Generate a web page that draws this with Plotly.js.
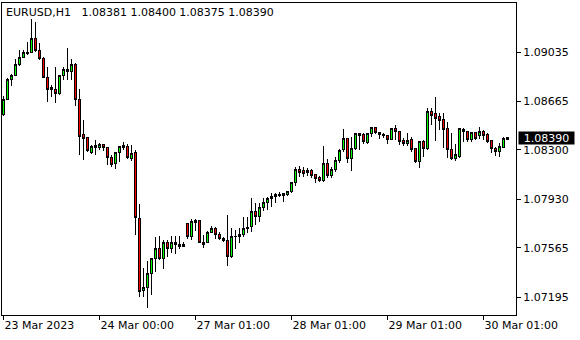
<!DOCTYPE html>
<html>
<head>
<meta charset="utf-8">
<script src="https://cdn.plot.ly/plotly-3.0.1.min.js"></script>
<style>
html,body{margin:0;padding:0;background:#fff;}
#chart{width:580px;height:340px;}
#chart path.box{shape-rendering:crispEdges !important;}
</style>
</head>
<body>
<div id="chart"></div>
<script>
var symbolTitle = "EURUSD,H1";
var openP = [1.08562,1.08682,1.08825,1.08855,1.08944,1.08997,1.09027,1.09035,1.09140,1.09050,
1.08990,1.08847,1.08765,1.08750,1.08720,1.08855,1.08900,1.08885,1.08944,1.08675,
1.08412,1.08390,1.08277,1.08330,1.08315,1.08337,1.08315,1.08240,1.08195,1.08277,
1.08330,1.08322,1.08232,1.08277,1.07781,1.07241,1.07263,1.07368,1.07481,1.07556,
1.07488,1.07601,1.07556,1.07586,1.07593,1.07571,1.07744,1.07646,1.07766,1.07766,
1.07593,1.07601,1.07683,1.07706,1.07668,1.07638,1.07616,1.07496,1.07646,1.07646,
1.07668,1.07706,1.07721,1.07834,1.07796,1.07864,1.07902,1.07932,1.07947,1.07959,
1.07970,1.07962,1.07985,1.08052,1.08150,1.08142,1.08127,1.08142,1.08112,1.08090,
1.08067,1.08195,1.08105,1.08150,1.08217,1.08300,1.08382,1.08232,1.08307,1.08405,
1.08412,1.08352,1.08420,1.08465,1.08427,1.08405,1.08405,1.08375,1.08457,1.08435,
1.08367,1.08345,1.08375,1.08307,1.08210,1.08360,1.08307,1.08585,1.08570,1.08547,
1.08525,1.08457,1.08300,1.08232,1.08247,1.08450,1.08435,1.08375,1.08427,1.08405,
1.08435,1.08412,1.08367,1.08307,1.08285,1.08315,1.08381];
var highP = [1.08705,1.08840,1.08870,1.08982,1.09050,1.09050,1.09110,1.09283,1.09260,1.09103,
1.08997,1.08922,1.08787,1.08922,1.08862,1.08922,1.09065,1.08982,1.08952,1.08757,
1.08525,1.08397,1.08337,1.08375,1.08352,1.08337,1.08322,1.08262,1.08277,1.08330,
1.08360,1.08345,1.08337,1.08300,1.07894,1.07413,1.07466,1.07488,1.07646,1.07653,
1.07623,1.07623,1.07653,1.07653,1.07653,1.07608,1.07751,1.07781,1.07781,1.07766,
1.07661,1.07691,1.07729,1.07721,1.07683,1.07646,1.07811,1.07714,1.07698,1.07714,
1.07796,1.07796,1.07940,1.07902,1.07902,1.07940,1.07947,1.07977,1.07977,1.07985,
1.07970,1.07992,1.08060,1.08172,1.08180,1.08172,1.08165,1.08157,1.08120,1.08105,
1.08330,1.08232,1.08172,1.08247,1.08307,1.08457,1.08382,1.08397,1.08427,1.08427,
1.08427,1.08427,1.08472,1.08472,1.08435,1.08427,1.08412,1.08465,1.08487,1.08435,
1.08390,1.08427,1.08397,1.08315,1.08360,1.08375,1.08615,1.08615,1.08697,1.08577,
1.08577,1.08510,1.08427,1.08345,1.08465,1.08465,1.08435,1.08435,1.08435,1.08472,
1.08450,1.08427,1.08367,1.08322,1.08352,1.08397,1.08400];
var lowP = [1.08555,1.08675,1.08780,1.08855,1.08929,1.08990,1.09012,1.09027,1.09035,1.08975,
1.08840,1.08660,1.08697,1.08652,1.08712,1.08825,1.08825,1.08825,1.08630,1.08262,
1.08225,1.08285,1.08270,1.08262,1.08300,1.08292,1.08187,1.08172,1.08157,1.08210,
1.08300,1.08232,1.08217,1.07661,1.07195,1.07195,1.07113,1.07210,1.07383,1.07473,
1.07405,1.07496,1.07526,1.07518,1.07556,1.07571,1.07631,1.07623,1.07691,1.07601,
1.07563,1.07601,1.07676,1.07631,1.07623,1.07608,1.07428,1.07488,1.07556,1.07601,
1.07646,1.07676,1.07683,1.07736,1.07759,1.07841,1.07849,1.07872,1.07902,1.07947,
1.07909,1.07955,1.07977,1.08030,1.08097,1.08097,1.08105,1.08090,1.08052,1.08060,
1.08060,1.08090,1.08090,1.08135,1.08202,1.08285,1.08202,1.08142,1.08300,1.08300,
1.08345,1.08345,1.08397,1.08420,1.08382,1.08390,1.08345,1.08375,1.08375,1.08337,
1.08330,1.08330,1.08285,1.08202,1.08165,1.08247,1.08300,1.08487,1.08367,1.08450,
1.08315,1.08240,1.08225,1.08217,1.08240,1.08360,1.08360,1.08360,1.08375,1.08382,
1.08375,1.08352,1.08277,1.08255,1.08247,1.08315,1.08375];
var closeP = [1.08675,1.08825,1.08855,1.08944,1.08997,1.09035,1.09035,1.09140,1.09050,1.08990,
1.08847,1.08757,1.08750,1.08727,1.08855,1.08900,1.08885,1.08944,1.08675,1.08397,
1.08382,1.08292,1.08322,1.08315,1.08337,1.08315,1.08240,1.08187,1.08277,1.08322,
1.08315,1.08240,1.08270,1.07789,1.07233,1.07263,1.07368,1.07481,1.07556,1.07488,
1.07601,1.07563,1.07601,1.07601,1.07571,1.07593,1.07646,1.07759,1.07751,1.07601,
1.07601,1.07683,1.07706,1.07661,1.07638,1.07623,1.07496,1.07646,1.07653,1.07668,
1.07706,1.07714,1.07834,1.07796,1.07864,1.07902,1.07932,1.07947,1.07962,1.07962,
1.07955,1.07985,1.08052,1.08150,1.08127,1.08120,1.08142,1.08105,1.08082,1.08067,
1.08195,1.08105,1.08150,1.08217,1.08292,1.08382,1.08232,1.08307,1.08420,1.08420,
1.08360,1.08420,1.08465,1.08427,1.08412,1.08412,1.08375,1.08457,1.08435,1.08360,
1.08345,1.08367,1.08300,1.08210,1.08360,1.08307,1.08585,1.08555,1.08532,1.08517,
1.08450,1.08300,1.08232,1.08262,1.08457,1.08435,1.08375,1.08427,1.08382,1.08435,
1.08405,1.08360,1.08307,1.08285,1.08322,1.08382,1.08390];
var timeTickBars = [0, 24, 48, 72, 96, 120];
var timeTickLabels = ["23 Mar 2023", "24 Mar 00:00", "27 Mar 01:00", "28 Mar 01:00", "29 Mar 01:00", "30 Mar 01:00"];
var priceTicks = [1.07195, 1.07565, 1.07930, 1.08300, 1.08665, 1.09035];
var priceTickLabels = ["1.07195", "1.07565", "1.07930", "1.08300", "1.08665", "1.09035"];

var barIndex = closeP.map(function (_, i) { return i; });
var last = closeP.length - 1;
var nbsp = "\u00a0";
var headText = symbolTitle + nbsp + nbsp + nbsp +
  openP[last].toFixed(5) + nbsp + highP[last].toFixed(5) + nbsp +
  lowP[last].toFixed(5) + nbsp + closeP[last].toFixed(5);

var trace = {
  type: "candlestick",
  x: barIndex,
  open: openP, high: highP, low: lowP, close: closeP,
  increasing: {line: {color: "#000000", width: 1}, fillcolor: "#00ff00"},
  decreasing: {line: {color: "#000000", width: 1}, fillcolor: "#ff0000"},
  whiskerwidth: 0,
  hoverinfo: "skip",
  showlegend: false
};

var font = {family: "DejaVu Sans", size: 11, color: "#000000"};
var layout = {
  width: 580, height: 340,
  margin: {l: 2, r: 64, t: 3, b: 25, pad: 0},
  paper_bgcolor: "#ffffff", plot_bgcolor: "#ffffff",
  font: font,
  showlegend: false,
  boxgap: 0.5,
  xaxis: {
    range: [-0.375, 128.125],
    showgrid: false, zeroline: false,
    showline: true, mirror: true, linecolor: "#000000", linewidth: 1,
    ticks: "outside", ticklen: 4, tickwidth: 1, tickcolor: "#000000",
    tickmode: "array", tickvals: timeTickBars, ticktext: timeTickLabels,
    ticklabelposition: "outside right",
    tickfont: font,
    rangeslider: {visible: false},
    fixedrange: true
  },
  yaxis: {
    side: "right",
    range: [1.07060, 1.09403],
    showgrid: false, zeroline: false,
    showline: true, mirror: true, linecolor: "#000000", linewidth: 1,
    ticks: "outside", ticklen: 4, tickwidth: 1, tickcolor: "#000000",
    tickmode: "array", tickvals: priceTicks, ticktext: priceTickLabels,
    tickfont: font,
    fixedrange: true
  },
  annotations: [
    {
      xref: "paper", yref: "paper", x: 0, y: 1,
      xanchor: "left", yanchor: "top", xshift: 3, yshift: -2,
      text: headText, showarrow: false, font: font, borderpad: 0
    },
    {
      xref: "paper", yref: "y", x: 1, y: closeP[last],
      xanchor: "left", yanchor: "middle", xshift: 2,
      text: closeP[last].toFixed(5), showarrow: false,
      font: {family: "DejaVu Sans", size: 11, color: "#ffffff"},
      bgcolor: "#000000", borderpad: 0, width: 55, height: 12, align: "center"
    }
  ]
};

Plotly.newPlot("chart", [trace], layout, {displayModeBar: false, staticPlot: true});
</script>
</body>
</html>
